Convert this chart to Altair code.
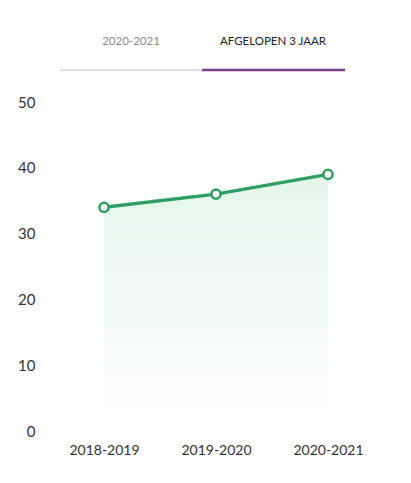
import altair as alt
import pandas as pd

seasons = ["2018-2019", "2019-2020", "2020-2021"]
values = [34, 36, 39]
tab_labels = ["2020-2021", "AFGELOPEN 3 JAAR"]
y_ticks = [0, 10, 20, 30, 40, 50]

df = pd.DataFrame({"season": seasons, "value": values})

FONT = "Lato"
GREEN = "#2f9e62"

x_enc = alt.X("season:N", sort=seasons, scale=alt.Scale(type="point", padding=0.5),
              axis=alt.Axis(title=None, labelAngle=0, domain=False, ticks=False, grid=False,
                            labelFontSize=14, labelColor="#333333", labelFont=FONT,
                            labelPadding=12))
y_enc = alt.Y("value:Q", scale=alt.Scale(domain=[0, 50]),
              axis=alt.Axis(title=None, values=y_ticks, domain=False, ticks=False, grid=False,
                            labelFontSize=15, labelColor="#333333", labelFont=FONT,
                            labelPadding=13))

base = alt.Chart(df)

area = base.mark_area(
    color=alt.Gradient(
        gradient="linear",
        stops=[alt.GradientStop(color="#e3f6eb", offset=0),
               alt.GradientStop(color="#ffffff", offset=0.95)],
        x1=0, x2=0, y1=0, y2=1,
    )
).encode(x=x_enc, y=y_enc)

line = base.mark_line(color=GREEN, strokeWidth=3.5).encode(x=x_enc, y=y_enc)

points = base.mark_point(filled=True, fill="white", stroke=GREEN, strokeWidth=2.5,
                         size=85, opacity=1).encode(x=x_enc, y=y_enc)

tabs_df = pd.DataFrame({"label": tab_labels})
tab1 = alt.Chart(tabs_df.iloc[[0]]).mark_text(
    font=FONT, fontSize=11.5, color="#8a8a8a", align="center", baseline="middle"
).encode(text="label:N", x=alt.value(83), y=alt.value(-60))
tab2 = alt.Chart(tabs_df.iloc[[1]]).mark_text(
    font=FONT, fontSize=11.5, color="#222222", align="center", baseline="middle"
).encode(text="label:N", x=alt.value(225), y=alt.value(-60))

rule_gray = alt.Chart(tabs_df.iloc[[0]]).mark_rule(color="#e2dfe3", strokeWidth=2).encode(
    x=alt.value(12), x2=alt.value(154), y=alt.value(-32))
rule_purple = alt.Chart(tabs_df.iloc[[1]]).mark_rule(color="#7a3d88", strokeWidth=2.5).encode(
    x=alt.value(154), x2=alt.value(297), y=alt.value(-32))

chart = alt.layer(area, line, points, tab1, tab2, rule_gray, rule_purple).properties(
    width=336, height=329,
    autosize=alt.AutoSizeParams(type="none"),
    padding={"left": 40, "top": 94, "right": 19, "bottom": 44},
    background="white",
).configure_view(stroke=None)

chart.save("out.html", embed_options={"renderer": "svg", "actions": False})
